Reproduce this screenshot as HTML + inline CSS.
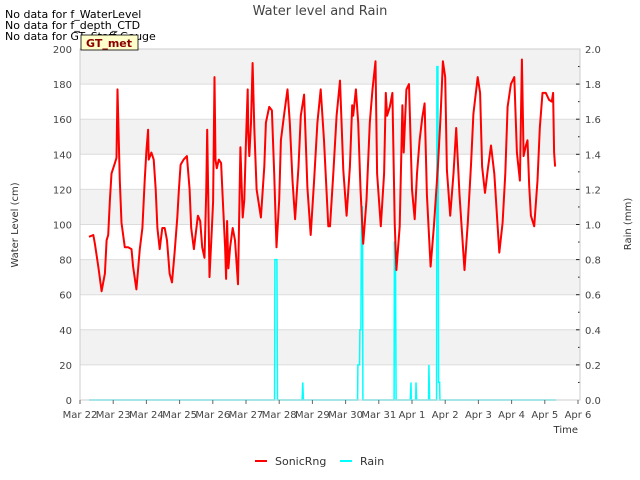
<!DOCTYPE html>
<html><head><meta charset="utf-8"><style>
body{margin:0;background:#fff}
svg{display:block;font-family:"DejaVu Sans","Liberation Sans",sans-serif}
</style></head><body>
<svg id="chart" width="640" height="480" viewBox="0 0 640 480">
<text x="5" y="18" font-size="11" fill="#000">No data for f_WaterLevel</text>
<text x="5" y="29" font-size="11" fill="#000">No data for f_depth_CTD</text>
<text x="5" y="40" font-size="11" fill="#000">No data for GT_Staff Gauge</text>
<text x="320" y="15" font-size="13" fill="#444" text-anchor="middle">Water level and Rain</text>
<g id="bands"></g>
<g id="grid"></g>
<g id="rain"></g>
<g id="sonic"></g>
<g id="axes"></g>
<g>
<rect x="81" y="35" width="57" height="15" fill="#ffffcc" stroke="#000" stroke-width="0.8"/>
<text x="109" y="47" font-size="11" font-weight="bold" fill="#8b0000" text-anchor="middle">GT_met</text>
</g>
<text transform="translate(18,225) rotate(-90)" font-size="10" fill="#333" text-anchor="middle">Water Level (cm)</text>
<text transform="translate(631,224) rotate(-90)" font-size="10" fill="#333" text-anchor="middle">Rain (mm)</text>
<text x="578" y="433" font-size="10" fill="#333" text-anchor="end">Time</text>
<g>
<line x1="255" y1="461" x2="267" y2="461" stroke="#ff0000" stroke-width="2"/>
<text x="275" y="465" font-size="11" fill="#333">SonicRng</text>
<line x1="340" y1="461" x2="352" y2="461" stroke="#00ffff" stroke-width="2"/>
<text x="360" y="465" font-size="11" fill="#333">Rain</text>
</g>
</svg>
<script>
const xTickLabels=["Mar 22","Mar 23","Mar 24","Mar 25","Mar 26","Mar 27","Mar 28","Mar 29","Mar 30","Mar 31","Apr 1","Apr 2","Apr 3","Apr 4","Apr 5","Apr 6"];
const yTicks=[0,20,40,60,80,100,120,140,160,180,200];
const y2Ticks=[0,0.2,0.4,0.6,0.8,1.0,1.2,1.4,1.6,1.8,2.0];
const sonicT=[0.27,0.40,0.45,0.55,0.65,0.75,0.80,0.85,0.90,0.95,1.05,1.10,1.13,1.20,1.25,1.35,1.45,1.55,1.60,1.70,1.80,1.88,1.95,2.00,2.05,2.07,2.15,2.22,2.28,2.33,2.40,2.48,2.55,2.62,2.70,2.77,2.85,2.93,2.98,3.03,3.12,3.22,3.30,3.35,3.43,3.50,3.55,3.62,3.68,3.75,3.80,3.83,3.90,3.97,4.01,4.05,4.08,4.12,4.18,4.25,4.30,4.37,4.40,4.43,4.47,4.52,4.60,4.67,4.76,4.83,4.90,4.95,5.00,5.05,5.07,5.10,5.15,5.20,5.25,5.32,5.45,5.55,5.60,5.70,5.78,5.85,5.92,6.00,6.05,6.15,6.25,6.32,6.40,6.48,6.58,6.65,6.75,6.85,6.95,7.05,7.15,7.25,7.35,7.48,
7.53,7.63,7.73,7.83,7.93,8.03,8.13,8.20,8.23,8.31,8.38,8.45,8.53,8.63,8.73,8.81,8.90,8.95,9.06,9.16,9.21,9.25,9.33,9.41,9.48,9.53,9.63,9.71,9.75,9.83,9.91,10.00,10.08,10.15,10.23,10.31,10.38,10.45,10.56,10.66,10.78,10.86,10.93,11.00,11.05,11.15,11.25,11.33,11.43,11.58,11.68,11.78,11.85,11.98,12.05,12.11,12.20,12.28,12.38,12.48,12.63,12.73,12.81,12.88,12.98,13.08,13.16,13.25,13.31,13.36,13.43,13.48,13.53,13.58,13.68,13.78,13.85,13.93,14.03,14.13,14.21,14.25,14.28,14.31];
const sonicV=[93,94,89,76,62,72,91,94,114,129,135,138,177,125,101,87,87,86,76,63,86,98,125,142,154,137,141,137,120,98,86,98,98,91,72,67,84,104,120,134,137,139,120,98,86,97,105,102,87,81,118,154,70,97,113,184,137,132,137,135,114,87,69,102,75,87,98,91,66,144,104,114,148,177,152,139,158,192,155,120,104,133,158,167,165,129,87,114,148,163,177,158,125,103,133,162,174,121,94,125,158,177,148,99,
99,129,162,182,131,105,133,168,162,177,158,120,89,114,158,177,193,129,99,129,175,162,167,175,101,74,99,168,141,177,180,120,103,129,148,161,169,117,76,99,133,162,193,184,131,105,129,155,117,74,101,135,163,184,175,133,118,131,145,129,84,101,129,167,180,184,141,125,194,139,145,148,122,105,99,125,155,175,175,171,170,175,141,133];
const rainT=[0.27,5.86,5.87,5.93,5.95,6.69,6.71,6.73,8.36,8.37,8.42,8.43,8.46,8.48,8.51,8.52,9.46,9.47,9.50,9.52,9.95,9.97,9.98,10.11,10.12,10.14,10.50,10.51,10.53,10.74,10.75,10.78,10.80,10.83,10.84,14.34];
const rainV=[0,0,0.8,0.8,0,0,0.1,0,0,0.2,0.2,0.4,0.4,1.1,1.1,0,0,0.9,0.9,0,0,0.1,0,0,0.1,0,0,0.2,0,0,1.9,1.9,0.1,0.1,0,0];

const L=80,R=580,T=49,B=400,NS="http://www.w3.org/2000/svg";
const xs=d=>L+d*(R-2-L)/15;
const ys=v=>B-v*(B-T)/200;
const ys2=v=>B-v*(B-T)/2;
function mk(tag,at,parent){const e=document.createElementNS(NS,tag);for(const k in at)e.setAttribute(k,at[k]);document.getElementById(parent).appendChild(e);return e;}
mk('rect',{x:L,y:T,width:R-L,height:B-T,fill:'#fff'},'bands');
for(let i=0;i<yTicks.length-1;i++){if(i%2===1){const b=mk('rect',{x:L,y:ys(yTicks[i+1]),width:R-L,height:ys(yTicks[i])-ys(yTicks[i+1]),fill:'#f2f2f2'},'bands');

}}
yTicks.forEach(v=>{const g=mk('line',{x1:L,x2:R,y1:ys(v),y2:ys(v),stroke:'#dcdcdc','stroke-width':1},'grid');


const t=mk('text',{x:L-8,y:ys(v)+4,'font-size':10,fill:'#444','text-anchor':'end'},'axes');t.textContent=v;

});
y2Ticks.forEach((v,i)=>{mk('line',{x1:R,x2:R-4,y1:ys2(v),y2:ys2(v),stroke:'#222'},'axes');
if(i<y2Ticks.length-1)mk('line',{x1:R,x2:R-2,y1:ys2(v+0.1),y2:ys2(v+0.1),stroke:'#222'},'axes');
const t=mk('text',{x:R+5,y:ys2(v)+4,'font-size':10,fill:'#444'},'axes');t.textContent=v.toFixed(1);

});
mk('rect',{x:L,y:T,width:R-L,height:B-T,fill:'none',stroke:'#ccc'},'axes');
xTickLabels.forEach((s,i)=>{mk('line',{x1:xs(i),x2:xs(i),y1:B,y2:B+4,stroke:'#666'},'axes');
const t=mk('text',{x:xs(i),y:418,'font-size':10,fill:'#444','text-anchor':'middle'},'axes');t.textContent=s;

});
const sp=mk('path',{d:sonicT.map((t,i)=>(i?'L':'M')+xs(t).toFixed(1)+','+ys(sonicV[i]).toFixed(1)).join(''),fill:'none',stroke:'#ff0000','stroke-width':2,'stroke-linejoin':'round'},'sonic');


const rp=mk('path',{d:rainT.map((t,i)=>(i?'L':'M')+xs(t).toFixed(1)+','+ys2(rainV[i]).toFixed(1)).join(''),fill:'none',stroke:'#00ffff','stroke-width':1.5},'rain');


</script>
</body></html>
